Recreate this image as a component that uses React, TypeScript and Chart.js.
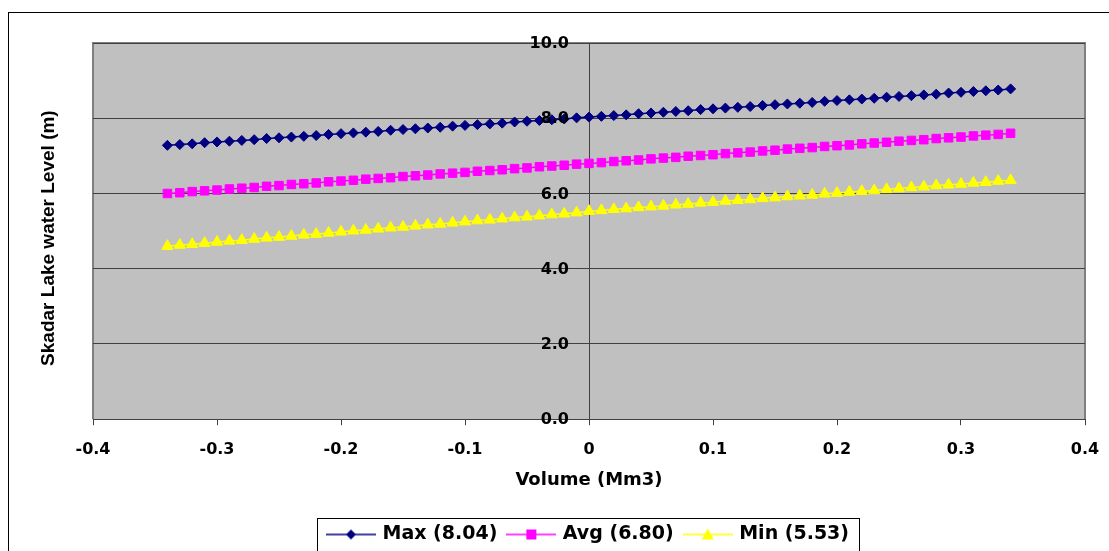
import React, { useEffect, useRef } from 'react';
import { Chart, registerables } from 'chart.js';

Chart.register(...registerables);

// ---- data ----
const volume = [
  -0.34, -0.33, -0.32, -0.31, -0.3, -0.29, -0.28, -0.27, -0.26, -0.25,
  -0.24, -0.23, -0.22, -0.21, -0.2, -0.19, -0.18, -0.17, -0.16, -0.15,
  -0.14, -0.13, -0.12, -0.11, -0.1, -0.09, -0.08, -0.07, -0.06, -0.05,
  -0.04, -0.03, -0.02, -0.01, 0, 0.01, 0.02, 0.03, 0.04, 0.05,
  0.06, 0.07, 0.08, 0.09, 0.1, 0.11, 0.12, 0.13, 0.14, 0.15,
  0.16, 0.17, 0.18, 0.19, 0.2, 0.21, 0.22, 0.23, 0.24, 0.25,
  0.26, 0.27, 0.28, 0.29, 0.3, 0.31, 0.32, 0.33, 0.34,
];

const maxLevel = [
  7.28, 7.30, 7.32, 7.35, 7.37, 7.39, 7.41, 7.43, 7.46, 7.48,
  7.50, 7.52, 7.54, 7.57, 7.59, 7.61, 7.63, 7.65, 7.68, 7.70,
  7.72, 7.74, 7.76, 7.79, 7.81, 7.83, 7.85, 7.87, 7.90, 7.92,
  7.94, 7.96, 7.98, 8.01, 8.03, 8.05, 8.07, 8.09, 8.12, 8.14,
  8.16, 8.18, 8.20, 8.23, 8.25, 8.27, 8.29, 8.31, 8.34, 8.36,
  8.38, 8.40, 8.42, 8.45, 8.47, 8.49, 8.51, 8.53, 8.56, 8.58,
  8.60, 8.62, 8.64, 8.67, 8.69, 8.71, 8.73, 8.75, 8.78,
];

const avgLevel = [
  6.00, 6.02, 6.05, 6.07, 6.09, 6.12, 6.14, 6.16, 6.19, 6.21,
  6.24, 6.26, 6.28, 6.31, 6.33, 6.35, 6.38, 6.40, 6.42, 6.45,
  6.47, 6.49, 6.52, 6.54, 6.56, 6.59, 6.61, 6.63, 6.66, 6.68,
  6.71, 6.73, 6.75, 6.78, 6.80, 6.82, 6.85, 6.87, 6.89, 6.92,
  6.94, 6.96, 6.99, 7.01, 7.03, 7.06, 7.08, 7.10, 7.13, 7.15,
  7.18, 7.20, 7.22, 7.25, 7.27, 7.29, 7.32, 7.34, 7.36, 7.39,
  7.41, 7.43, 7.46, 7.48, 7.50, 7.53, 7.55, 7.57, 7.60,
];

const minLevel = [
  4.60, 4.63, 4.65, 4.68, 4.71, 4.74, 4.76, 4.79, 4.82, 4.84,
  4.87, 4.90, 4.92, 4.95, 4.98, 5.01, 5.03, 5.06, 5.09, 5.11,
  5.14, 5.17, 5.19, 5.22, 5.25, 5.28, 5.30, 5.33, 5.36, 5.38,
  5.41, 5.44, 5.46, 5.49, 5.53, 5.55, 5.58, 5.60, 5.63, 5.65,
  5.67, 5.70, 5.72, 5.75, 5.77, 5.80, 5.82, 5.84, 5.87, 5.89,
  5.92, 5.94, 5.96, 5.99, 6.01, 6.04, 6.06, 6.08, 6.11, 6.13,
  6.16, 6.18, 6.21, 6.23, 6.25, 6.28, 6.30, 6.33, 6.35,
];

const seriesLabels = ['Max (8.04)', 'Avg (6.80)', 'Min (5.53)'];
const seriesColors = ['#000080', '#ff00ff', '#ffff00'];
const seriesMarkers = ['rectRot', 'rect', 'triangle'];
const xAxisTitle = 'Volume (Mm3)';
const yAxisTitle = 'Skadar Lake water Level (m)';
const xRange = [-0.4, 0.4];
const xStep = 0.1;
const yRange = [0, 10];
const yStep = 2;

const TICK_FONT = 'bold 16px "DejaVu Sans", sans-serif';

// ---- helpers ----
function makeLegendSample(color: string, marker: string): HTMLCanvasElement {
  const c = document.createElement('canvas');
  c.width = 50;
  c.height = 16;
  const g = c.getContext('2d')!;
  g.strokeStyle = color;
  g.lineWidth = 1.5;
  g.beginPath();
  g.moveTo(0, 8);
  g.lineTo(50, 8);
  g.stroke();
  g.fillStyle = color;
  g.beginPath();
  if (marker === 'rectRot') {
    g.moveTo(20, 8);
    g.lineTo(25, 3);
    g.lineTo(30, 8);
    g.lineTo(25, 13);
  } else if (marker === 'rect') {
    g.rect(20, 3, 10, 10);
  } else {
    g.moveTo(25, 2);
    g.lineTo(31, 13);
    g.lineTo(19, 13);
  }
  g.closePath();
  g.fill();
  return c;
}

const plotBackground = {
  id: 'plotBackground',
  beforeDraw(chart: any) {
    const { ctx, chartArea } = chart;
    if (!chartArea) return;
    ctx.save();
    ctx.fillStyle = '#c0c0c0';
    ctx.fillRect(chartArea.left, chartArea.top, chartArea.right - chartArea.left, chartArea.bottom - chartArea.top);
    ctx.strokeStyle = '#808080';
    ctx.lineWidth = 2;
    ctx.beginPath();
    ctx.moveTo(chartArea.left, chartArea.bottom);
    ctx.lineTo(chartArea.left, chartArea.top);
    ctx.lineTo(chartArea.right, chartArea.top);
    ctx.lineTo(chartArea.right, chartArea.bottom);
    ctx.stroke();
    ctx.restore();
  },
};

// y tick labels next to the centred axis (drawn above the series, as in the original)
const yLabels = {
  id: 'yLabels',
  afterDatasetsDraw(chart: any) {
    const { ctx } = chart;
    const ys = chart.scales.y;
    const xs = chart.scales.x;
    const axisX = xs.getPixelForValue(0);
    ctx.save();
    ctx.font = TICK_FONT;
    ctx.fillStyle = '#000';
    ctx.textAlign = 'right';
    ctx.textBaseline = 'middle';
    ys.ticks.forEach((t: any) => {
      ctx.fillText(Number(t.value).toFixed(1), axisX - 20, ys.getPixelForValue(t.value) + 1);
    });
    ctx.restore();
  },
};

const extras = {
  id: 'extras',
  afterDraw(chart: any) {
    const { ctx, chartArea } = chart;
    ctx.save();
    // y axis title
    ctx.translate(chartArea.left - 44, (chartArea.top + chartArea.bottom) / 2 + 7);
    ctx.rotate(-Math.PI / 2);
    ctx.font = 'bold 19px "Liberation Sans", Arial, sans-serif';
    ctx.fillStyle = '#000';
    ctx.textAlign = 'center';
    ctx.textBaseline = 'middle';
    ctx.fillText(yAxisTitle, 0, 0);
    ctx.restore();

    // legend frame
    const lg = chart.legend;
    const hb = lg && lg.legendHitBoxes;
    if (hb && hb.length) {
      const left = hb[0].left - 12;
      const last = hb[hb.length - 1];
      const right = last.left + last.width + 10;
      const cy = hb[0].top + hb[0].height / 2;
      ctx.save();
      ctx.strokeStyle = '#000';
      ctx.lineWidth = 1;
      ctx.strokeRect(Math.round(left) + 0.5, Math.round(cy - 17) + 0.5, Math.round(right - left), 34);
      ctx.restore();
    }
  },
};

export default function App() {
  const ref = useRef<HTMLCanvasElement>(null);

  useEffect(() => {
    document.documentElement.style.overflow = 'hidden';
    document.body.style.overflow = 'hidden';
    const canvas = ref.current!;
    const series = [maxLevel, avgLevel, minLevel];
    const samples = seriesColors.map((c, i) => makeLegendSample(c, seriesMarkers[i]));
    const tickFont = { family: '"DejaVu Sans", sans-serif', weight: 'bold' as const, size: 16 };

    const chart = new Chart(canvas, {
      type: 'line',
      data: {
        datasets: series.map((vals, i) => ({
          label: seriesLabels[i],
          data: volume.map((v, j) => ({ x: v, y: vals[j] })),
          borderColor: seriesColors[i],
          backgroundColor: seriesColors[i],
          pointBackgroundColor: seriesColors[i],
          pointBorderColor: seriesColors[i],
          pointStyle: seriesMarkers[i] as any,
          pointRadius: i === 0 ? 5 : i === 1 ? 6 : 6.5,
          pointBorderWidth: 1,
          borderWidth: 1.5,
          fill: false,
          tension: 0,
        })),
      },
      options: {
        responsive: false,
        animation: false,
        devicePixelRatio: 1,
        layout: { padding: { left: 84, right: 30, top: 30, bottom: 0 } },
        scales: {
          x: {
            type: 'linear',
            position: 'bottom',
            min: xRange[0],
            max: xRange[1],
            ticks: {
              stepSize: xStep,
              font: tickFont,
              color: '#000',
              padding: 15,
              maxRotation: 0,
              autoSkip: false,
              callback: (v: any) => (Math.abs(Number(v)) < 1e-9 ? '0' : Number(v).toFixed(1)),
            },
            grid: { drawOnChartArea: false, drawTicks: true, tickLength: 6, color: '#404040' },
            border: { display: true, color: '#404040', width: 1 },
            title: {
              display: true,
              text: xAxisTitle,
              color: '#000',
              font: { family: '"DejaVu Sans", sans-serif', weight: 'bold', size: 18 },
              padding: { top: -5, bottom: 22 },
            },
          },
          y: {
            type: 'linear',
            position: { x: 0 } as any,
            min: yRange[0],
            max: yRange[1],
            ticks: {
              stepSize: yStep,
              display: false,
            },
            grid: { color: '#404040', lineWidth: 1, drawTicks: true, tickLength: 7, tickColor: '#404040' },
            border: { display: true, color: '#404040', width: 1 },
          },
        },
        plugins: {
          tooltip: { enabled: false },
          legend: {
            display: true,
            position: 'bottom',
            labels: {
              usePointStyle: true,
              pointStyleWidth: 44,
              padding: 12,
              color: '#000',
              font: { family: '"DejaVu Sans", sans-serif', weight: 'bold', size: 19 },
              generateLabels: (ch: any) =>
                ch.data.datasets.map((ds: any, i: number) => ({
                  text: ds.label,
                  pointStyle: samples[i],
                  fillStyle: seriesColors[i],
                  strokeStyle: seriesColors[i],
                  lineWidth: 0,
                  hidden: false,
                  datasetIndex: i,
                })),
            },
          },
        },
      },
      plugins: [plotBackground, yLabels, extras],
    });
    return () => chart.destroy();
  }, []);

  return (
    <div
      style={{
        position: 'absolute',
        left: 8,
        top: 12,
        width: 1106,
        height: 560,
        border: '1px solid #000',
        background: '#fff',
      }}
    >
      <canvas ref={ref} width={1106} height={541} style={{ display: 'block' }} />
    </div>
  );
}
